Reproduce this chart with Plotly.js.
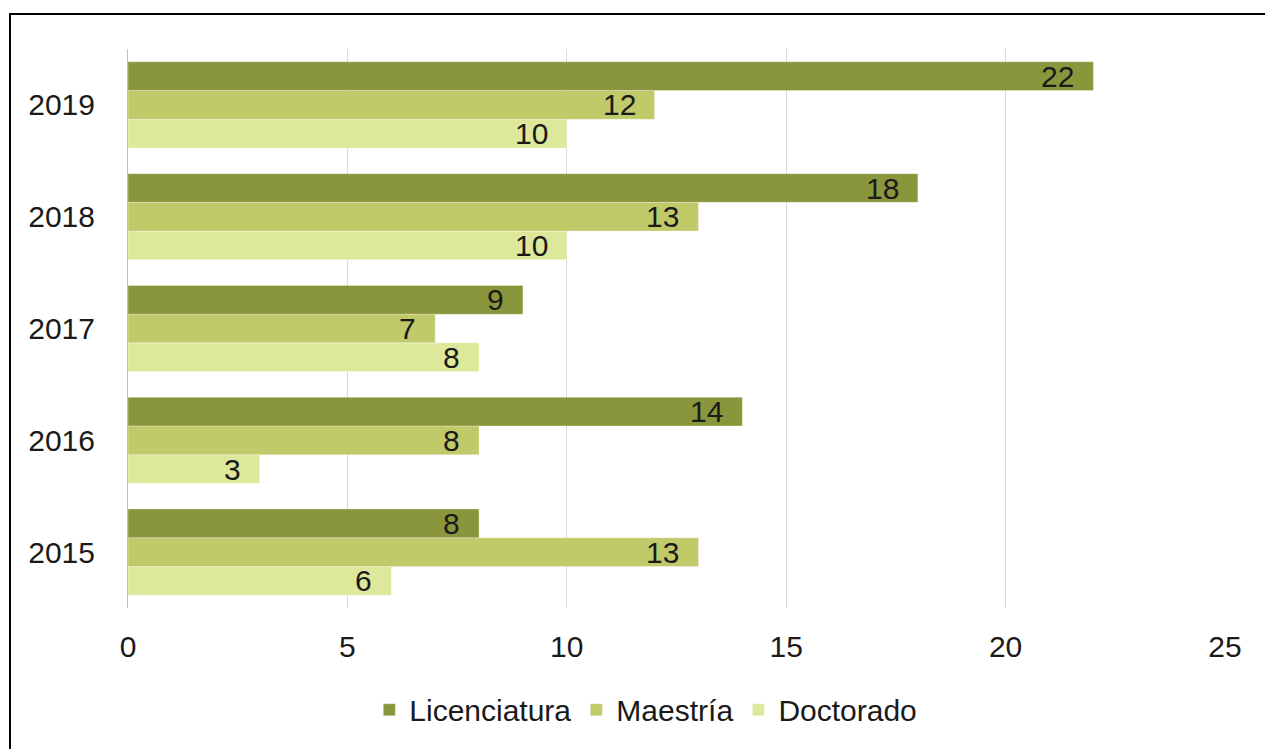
<!DOCTYPE html>
<html>
<head>
<meta charset="utf-8">
<script src="https://cdn.plot.ly/plotly-3.0.1.min.js"></script>
<style>
  html, body { margin: 0; padding: 0; background: #fff; }
  #wrap { position: relative; width: 1265px; height: 749px; overflow: hidden; }
  #chart { position: absolute; left: 0; top: 0; width: 1265px; height: 749px; }
  #frame { position: absolute; left: 9px; top: 13px; width: 1300px; height: 800px;
           border-top: 2px solid #000; border-left: 2px solid #000; pointer-events: none; }
</style>
</head>
<body>
<div id="wrap">
  <div id="chart"></div>
  <div id="frame"></div>
</div>
<script>
const years = ['2015', '2016', '2017', '2018', '2019'];
const licenciatura = [8, 14, 9, 18, 22];
const maestria = [13, 8, 7, 13, 12];
const doctorado = [6, 3, 8, 10, 10];
const seriesNames = ['Licenciatura', 'Maestría', 'Doctorado'];
const seriesColors = ['#8a963b', '#c0ca69', '#dee89b'];
const xTicks = [0, 5, 10, 15, 20, 25];

const font = 'Liberation Sans, Arial, sans-serif';
const fs = 30;
const bargap = 0.23;
const seriesData = [licenciatura, maestria, doctorado];

// Plotly places first trace lowest in horizontal groups -> add in reverse
const traces = [];
for (let s = 2; s >= 0; s--) {
  traces.push({
    type: 'bar',
    orientation: 'h',
    name: seriesNames[s],
    y: years,
    x: seriesData[s],
    marker: { color: seriesColors[s], line: { color: 'rgba(255,255,255,0.5)', width: 0.6 } },
    hoverinfo: 'x+name'
  });
}

// value labels (inside end)
const barW = (1 - bargap) / 3;
const annotations = [];
seriesData.forEach((vals, s) => {
  const off = (1 - s) * barW;
  vals.forEach((v, i) => {
    annotations.push({
      x: v, y: i + off, xref: 'x', yref: 'y',
      text: String(v), showarrow: false,
      xanchor: 'right', yanchor: 'middle', xshift: -17,
      font: { family: font, size: fs, color: '#1a1a1a' }
    });
  });
});

const layout = {
  width: 1265, height: 749,
  margin: { l: 128, r: 40, t: 49, b: 141 },
  paper_bgcolor: '#ffffff', plot_bgcolor: '#ffffff',
  barmode: 'group', bargap: bargap, bargroupgap: 0,
  showlegend: true,
  legend: {
    orientation: 'h', traceorder: 'reversed',
    x: 0.472, xanchor: 'center', y: -0.182, yanchor: 'middle',
    font: { family: font, size: fs, color: '#1a1a1a' },
    itemwidth: 30
  },
  xaxis: {
    range: [0, 25], tickvals: xTicks, ticktext: xTicks.map(String),
    showgrid: true, gridcolor: '#d9d9d9', gridwidth: 1,
    zeroline: false, showline: false,
    ticks: 'outside', ticklen: 12, tickcolor: 'rgba(0,0,0,0)',
    tickfont: { family: font, size: fs, color: '#1a1a1a' },
    fixedrange: true
  },
  yaxis: {
    type: 'category', categoryorder: 'array', categoryarray: years,
    range: [-0.5, 4.5],
    showgrid: false, zeroline: false,
    showline: true, linecolor: '#bfbfbf', linewidth: 1,
    ticks: 'outside', ticklen: 26, tickcolor: 'rgba(0,0,0,0)',
    tickfont: { family: font, size: fs, color: '#1a1a1a' },
    fixedrange: true
  },
  annotations: annotations
};

Plotly.newPlot('chart', traces, layout, { displayModeBar: false, staticPlot: true });
</script>
</body>
</html>
